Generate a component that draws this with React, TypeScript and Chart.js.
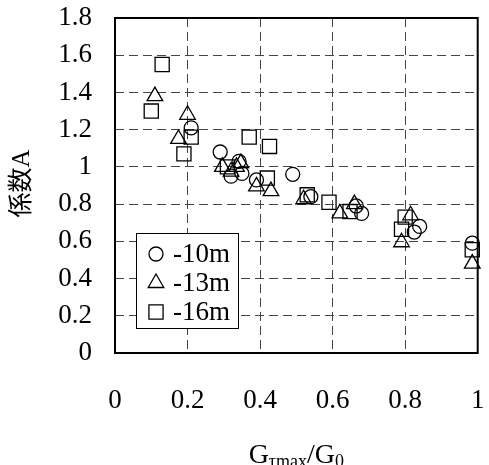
import React, { useEffect, useRef } from 'react';
import { Chart, registerables } from 'chart.js';

Chart.register(...registerables);

// ---- data ----
const xTicks = [0, 0.2, 0.4, 0.6, 0.8, 1];
const yTicks = [0, 0.2, 0.4, 0.6, 0.8, 1, 1.2, 1.4, 1.6, 1.8];
const seriesLabels = ['-10m', '-13m', '-16m'];

const x10 = [0.21, 0.29, 0.32, 0.342, 0.35, 0.39, 0.49, 0.54, 0.665, 0.68, 0.825, 0.84, 0.985];
const y10 = [1.21, 1.08, 0.95, 1.03, 0.965, 0.93, 0.96, 0.84, 0.79, 0.75, 0.65, 0.68, 0.59];

const x13 = [0.11, 0.2, 0.175, 0.296, 0.32, 0.335, 0.347, 0.39, 0.43, 0.52, 0.62, 0.66, 0.815, 0.79, 0.985];
const y13 = [1.38, 1.28, 1.15, 1.0, 0.975, 1.0, 1.02, 0.895, 0.87, 0.826, 0.75, 0.8, 0.74, 0.595, 0.48];

const x16 = [0.13, 0.1, 0.21, 0.19, 0.37, 0.426, 0.31, 0.42, 0.53, 0.59, 0.648, 0.8, 0.79, 0.985];
const y16 = [1.55, 1.3, 1.16, 1.07, 1.16, 1.11, 1.0, 0.94, 0.85, 0.81, 0.76, 0.73, 0.665, 0.555];

const SERIF = "'Liberation Serif', 'Times New Roman', 'Noto Sans CJK JP', serif";

const toPts = (xs: number[], ys: number[]) => xs.map((x, i) => ({ x, y: ys[i] }));
const fmt = (v: number) => String(Number(v.toFixed(1)));

function drawMarker(ctx: CanvasRenderingContext2D, style: string, x: number, y: number, r: number) {
  ctx.beginPath();
  if (style === 'circle') {
    ctx.arc(x, y, r, 0, Math.PI * 2);
  } else if (style === 'triangle') {
    ctx.moveTo(x, y - r);
    ctx.lineTo(x + r * Math.cos(Math.PI / 6), y + r * 0.5);
    ctx.lineTo(x - r * Math.cos(Math.PI / 6), y + r * 0.5);
    ctx.closePath();
  } else {
    const s = r * Math.SQRT1_2;
    ctx.rect(x - s, y - s, 2 * s, 2 * s);
  }
  ctx.stroke();
}

const framePlugin = {
  id: 'frame',
  beforeDatasetsDraw(chart: any) {
    const { ctx, chartArea: a } = chart;
    ctx.save();
    ctx.strokeStyle = '#000';
    ctx.lineWidth = 2;
    ctx.strokeRect(a.left, a.top, a.right - a.left, a.bottom - a.top);
    ctx.restore();
  },
};

const titlesPlugin = {
  id: 'titles',
  afterDraw(chart: any) {
    const { ctx, chartArea: a } = chart;
    ctx.save();
    ctx.fillStyle = '#000';
    // y title
    ctx.save();
    ctx.translate(22, (a.top + a.bottom) / 2 - 2);
    ctx.rotate(-Math.PI / 2);
    ctx.font = `25px ${SERIF}`;
    ctx.textAlign = 'center';
    ctx.textBaseline = 'middle';
    ctx.fillText('係数A', 0, 0);
    ctx.restore();
    // x title with subscripts
    const parts: [string, boolean][] = [['G', false], ['τmax', true], ['/G', false], ['0', true]];
    const big = `28px ${SERIF}`;
    const small = `18px ${SERIF}`;
    let total = 0;
    for (const [t, sub] of parts) {
      ctx.font = sub ? small : big;
      total += ctx.measureText(t).width;
    }
    let x = (a.left + a.right) / 2 - total / 2;
    const base = 463;
    ctx.textAlign = 'left';
    ctx.textBaseline = 'alphabetic';
    for (const [t, sub] of parts) {
      ctx.font = sub ? small : big;
      ctx.fillText(t, x, sub ? base + 4 : base);
      x += ctx.measureText(t).width;
    }
    ctx.restore();
  },
};

const legendPlugin = {
  id: 'customLegend',
  afterDraw(chart: any) {
    const { ctx, chartArea: a } = chart;
    const left = a.left + 21;
    const top = a.top + 215;
    const w = 102;
    const h = 95;
    ctx.save();
    ctx.fillStyle = '#fff';
    ctx.fillRect(left, top, w, h);
    ctx.strokeStyle = '#000';
    ctx.lineWidth = 1;
    ctx.strokeRect(left + 0.5, top + 0.5, w, h);
    const styles = ['circle', 'triangle', 'rect'];
    const radii = [7, 9, 10];
    ctx.font = `27px ${SERIF}`;
    ctx.textBaseline = 'middle';
    ctx.fillStyle = '#000';
    ctx.lineWidth = 1.3;
    seriesLabels.forEach((lab, i) => {
      const cy = top + 21 + i * 29;
      drawMarker(ctx, styles[i], left + 20, cy, radii[i]);
      ctx.fillText(lab, left + 37, cy + 1);
    });
    ctx.restore();
  },
};

export default function App() {
  const ref = useRef<HTMLCanvasElement | null>(null);
  useEffect(() => {
    if (!ref.current) return;
    const common = {
      showLine: false,
      borderColor: '#000',
      backgroundColor: 'rgba(0,0,0,0)',
      pointBorderWidth: 1.3,
      clip: false as any,
    };
    const chart = new Chart(ref.current, {
      type: 'scatter',
      data: {
        datasets: [
          { ...common, label: seriesLabels[0], data: toPts(x10, y10), pointStyle: 'circle', pointRadius: 7 },
          { ...common, label: seriesLabels[1], data: toPts(x13, y13), pointStyle: 'triangle', pointRadius: 9 },
          { ...common, label: seriesLabels[2], data: toPts(x16, y16), pointStyle: 'rect', pointRadius: 10 },
        ],
      },
      options: {
        responsive: false,
        animation: false,
        events: [],
        layout: { padding: { top: 18, right: 6, left: 0, bottom: 0 } },
        plugins: { legend: { display: false }, tooltip: { enabled: false } },
        scales: {
          x: {
            type: 'linear',
            min: 0,
            max: 1,
            afterBuildTicks: (s: any) => { s.ticks = xTicks.map((v) => ({ value: v })); },
            afterFit: (s: any) => { s.height = 112; s.paddingLeft = 0; s.paddingRight = 0; },
            ticks: {
              padding: 32,
              color: '#000',
              font: { family: SERIF, size: 27 },
              callback: (v: any) => fmt(Number(v)),
              maxRotation: 0,
              autoSkip: false,
            },
            grid: { color: '#444', lineWidth: 1, drawTicks: false },
            border: { display: false, dash: [9, 5] },
          },
          y: {
            type: 'linear',
            min: 0,
            max: 1.8,
            afterBuildTicks: (s: any) => { s.ticks = yTicks.map((v) => ({ value: v })); },
            afterFit: (s: any) => { s.width = 115; s.paddingTop = 0; s.paddingBottom = 0; },
            ticks: {
              padding: 23,
              color: '#000',
              font: { family: SERIF, size: 27 },
              callback: (v: any) => fmt(Number(v)),
              autoSkip: false,
            },
            grid: { color: '#444', lineWidth: 1, drawTicks: false },
            border: { display: false, dash: [9, 5] },
          },
        },
      },
      plugins: [framePlugin, legendPlugin, titlesPlugin],
    });
    return () => chart.destroy();
  }, []);
  return (
    <div style={{ position: 'absolute', left: 0, top: 0, width: 489, height: 465, background: '#fff' }}>
      <canvas ref={ref} width={489} height={465} style={{ display: 'block' }} />
    </div>
  );
}
